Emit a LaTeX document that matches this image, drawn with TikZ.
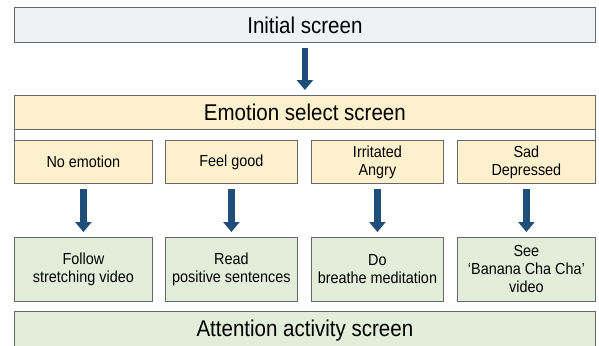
\documentclass[tikz,border=0pt]{standalone}
\usepackage{fontspec}
\setmainfont{Liberation Sans}[FakeStretch=0.9]
\usetikzlibrary{arrows.meta}

\definecolor{framegray}{HTML}{676767}
\definecolor{initfill}{HTML}{EEF2F4}
\definecolor{emoyellow}{HTML}{FDF1CD}
\definecolor{actgreen}{HTML}{E2EED9}
\definecolor{flowblue}{HTML}{1F4E79}

\tikzset{
  screenbox/.style={draw=framegray, line width=0.8pt, inner sep=0pt,
    anchor=north west, align=center, font=\fontsize{16}{18}\selectfont},
  bigbox/.style={screenbox, font=\fontsize{22.8}{24}\selectfont},
  emobox/.style={screenbox, fill=emoyellow, minimum height=43pt},
  actbox/.style={screenbox, fill=actgreen, minimum height=64pt},
  flow/.style={draw=flowblue, line width=6.5pt,
    -{Triangle[width=16pt,length=10pt]}, shorten <=5.5pt, shorten >=5pt}
}

\begin{document}
\begin{tikzpicture}[x=1pt,y=-1pt]
  \useasboundingbox (0,0) rectangle (599,345);

  % --- 1. 頂部：初始畫面 ---
  \node[bigbox, fill=initfill, minimum width=581pt, minimum height=35pt]
    (init) at (14,7) {Initial screen};

  % --- 2. 情緒選擇畫面（外框 + 標題帶）---
  \draw[framegray, line width=0.8pt] (14,140) -- (14,95) -- (595,95) -- (595,140);
  \node[bigbox, fill=emoyellow, minimum width=581pt, minimum height=34pt]
    (emosel) at (14,95) {Emotion select screen};

  \draw[flow] (init.south) -- (emosel.north);

  % --- 3. 四種情緒及對應活動 ---
  \foreach \i/\xl/\w/\emo/\act in {
      1/14/138/{No emotion}/{Follow\\stretching video},
      2/165/132/{Feel good}/{Read\\positive sentences},
      3/311/132/{Irritated\\Angry}/{Do\\breathe meditation},
      4/457/138/{Sad\\Depressed}/{See\\`Banana Cha Cha'\\video}}{
    \node[emobox, minimum width=\w pt] (emo\i) at (\xl,140) {\emo};
    \node[actbox, minimum width=\w pt] (act\i) at (\xl,237) {\act};
    \draw[flow] (emo\i.south) -- (act\i.north);
  }

  % --- 4. 底部：專注活動畫面 ---
  \node[bigbox, fill=actgreen, minimum width=581pt, minimum height=38pt]
    (attn) at (14,311) {Attention activity screen};
\end{tikzpicture}
\end{document}
